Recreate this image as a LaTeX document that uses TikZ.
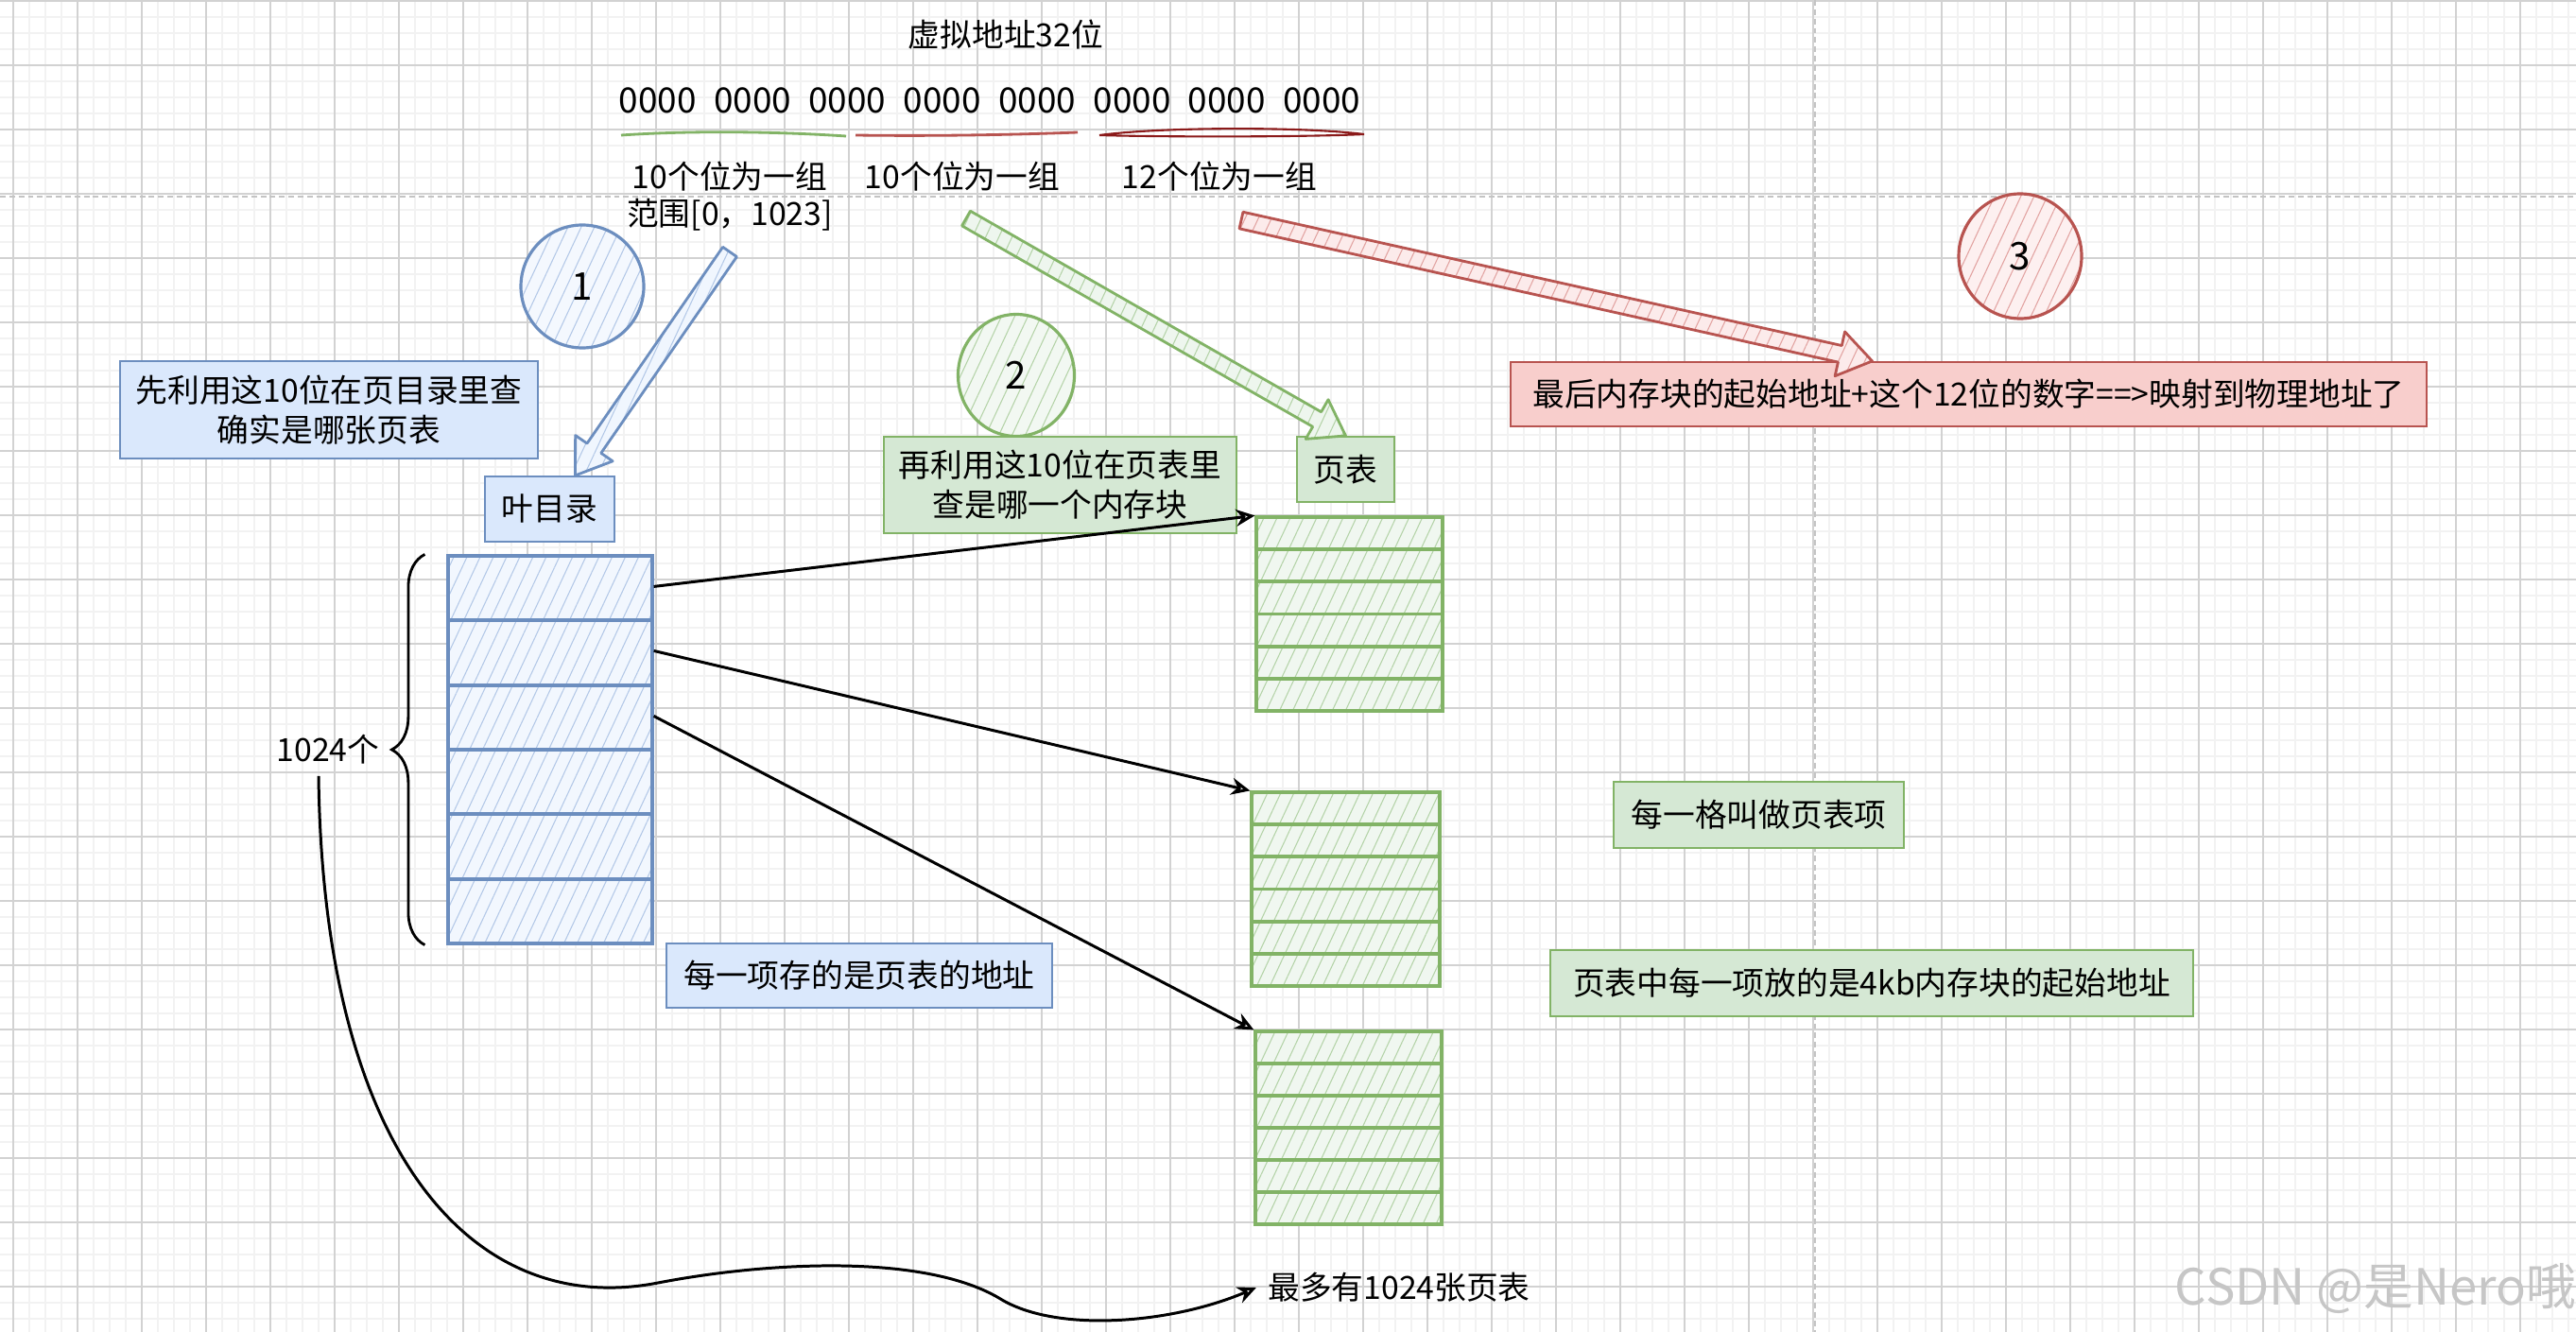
\documentclass[tikz,border=0pt]{standalone}
\usepackage{fontspec}
\setmainfont{Noto Sans CJK SC}
\usetikzlibrary{arrows.meta,calc,shapes.geometric,patterns.meta,decorations.pathreplacing}

\definecolor{blueFill}{HTML}{DAE8FC}
\definecolor{blueLine}{HTML}{6C8EBF}
\definecolor{greenFill}{HTML}{D5E8D4}
\definecolor{greenLine}{HTML}{82B366}
\definecolor{redFill}{HTML}{F8CECC}
\definecolor{redLine}{HTML}{B85450}
\definecolor{darkRed}{HTML}{8B1A1A}
\definecolor{gridMajor}{HTML}{D2D2D2}
\definecolor{gridMinor}{HTML}{F2F2F2}
\definecolor{gridDash}{HTML}{C4C4C4}
\colorlet{blueHatch}{blueLine!35!blueFill}
\colorlet{greenHatch}{greenLine!40!greenFill}
\colorlet{redHatch}{redLine!35!redFill}

\tikzset{
	note/.style={draw, line width=0.6pt, align=center, inner sep=0pt},
	bluenote/.style={note, draw=blueLine, fill=blueFill},
	greennote/.style={note, draw=greenLine, fill=greenFill},
	rednote/.style={note, draw=redLine, fill=redFill},
	hatch/.style={pattern={Lines[angle=65,distance=3.6pt,line width=0.3pt]}, pattern color=#1},
	stack/.style={draw, line width=0.9pt, inner sep=0pt},
	badge/.style={ellipse, draw, line width=0.9pt, inner sep=0pt, font=\fontsize{11.5}{14}\selectfont},
	bigarrow/.style={line width=0.8pt, line join=round},
	link/.style={line width=0.85pt, -{Stealth[open,length=2mm,width=1.8mm]}}
}

\newcommand{\fatarrow}[3]{%
	\coordinate (hb) at ($(#3)!0.35cm!(#2)$);
	\draw[bigarrow, #1] ($(#2)!0.09cm!90:(#3)$) -- ($(hb)!0.09cm!90:(#3)$) -- ($(hb)!0.24cm!90:(#3)$) -- (#3) -- ($(hb)!0.24cm!-90:(#3)$) -- ($(hb)!0.09cm!-90:(#3)$) -- ($(#2)!0.09cm!-90:(#3)$) -- cycle;
}

\begin{document}
\begin{tikzpicture}[font=\fontsize{9.6}{12}\selectfont]
	\fill[white] (0,0) rectangle (27.25,-14.09);
	\useasboundingbox (0,0) rectangle (27.25,-14.09);
	\begin{scope}[shift={(0.14,-0.01)}]
		\draw[gridMinor, line width=0.5pt, step=0.17] (-0.14,-14.08) grid (27.11,0.01);
		\draw[gridMajor, line width=0.35pt, step=0.68] (-0.14,-14.08) grid (27.11,0.01);
	\end{scope}
	\draw[gridDash, line width=0.5pt, dash pattern=on 1.7pt off 1.1pt] (0,-2.08) -- (27.25,-2.08);
	\draw[gridDash, line width=0.5pt, dash pattern=on 1.7pt off 1.1pt] (19.20,0) -- (19.20,-14.09);

	\node (title) at (10.64,-0.37) {虚拟地址32位};
	\node[font=\fontsize{10.5}{12}\selectfont] (bits) at (10.47,-1.06) {0000\hspace{0.5em}0000\hspace{0.5em}0000\hspace{0.5em}0000\hspace{0.5em}0000\hspace{0.5em}0000\hspace{0.5em}0000\hspace{0.5em}0000};
	\draw[greenLine, line width=0.8pt] (6.57,-1.43) .. controls (7.3,-1.38) and (8.2,-1.39) .. (8.95,-1.44);
	\draw[redLine, line width=0.8pt] (9.05,-1.43) .. controls (9.8,-1.44) and (10.6,-1.43) .. (11.40,-1.40);
	\draw[darkRed, line width=0.6pt] (11.63,-1.43) .. controls (12.3,-1.34) and (13.8,-1.34) .. (14.43,-1.42) .. controls (13.8,-1.45) and (12.3,-1.45) .. (11.63,-1.43);
	\node (lbl1) at (7.72,-1.87) {10个位为一组};
	\node (range) at (7.72,-2.27) {范围[0，1023]};
	\node (lbl2) at (10.18,-1.87) {10个位为一组};
	\node (lbl3) at (12.90,-1.87) {12个位为一组};

	\node[badge, draw=blueLine, preaction={fill=blueFill!30!white}, hatch=blueHatch, minimum width=1.30cm, minimum height=1.30cm] (c1) at (6.16,-3.03) {1};
	\node[badge, draw=greenLine, preaction={fill=greenFill!30!white}, hatch=greenHatch, minimum width=1.23cm, minimum height=1.29cm] (c2) at (10.75,-3.97) {2};
	\node[badge, draw=redLine, preaction={fill=redFill!30!white}, hatch=redHatch, minimum width=1.30cm, minimum height=1.32cm] (c3) at (21.37,-2.71) {3};

	\node[bluenote, minimum width=4.42cm, minimum height=1.03cm] (n1) at (3.48,-4.335) {先利用这10位在页目录里查\\确实是哪张页表};
	\node[bluenote, minimum width=1.37cm, minimum height=0.69cm] (dir) at (5.815,-5.385) {叶目录};
	\node[greennote, minimum width=3.73cm, minimum height=1.02cm] (n2) at (11.215,-5.13) {再利用这10位在页表里\\查是哪一个内存块};
	\node[greennote, minimum width=1.03cm, minimum height=0.69cm] (pt) at (14.235,-4.965) {页表};
	\node[rednote, minimum width=9.69cm, minimum height=0.68cm] (phys) at (20.825,-4.17) {最后内存块的起始地址+这个12位的数字==>映射到物理地址了};

	\coordinate (a1) at ([yshift=-0.1cm]range.south);
	\coordinate (b1) at ([xshift=0.27cm]dir.north);
	\fatarrow{draw=blueLine, preaction={fill=blueFill!40!white}, hatch=blueHatch}{a1}{b1}
	\coordinate (a2) at ([xshift=0.04cm,yshift=-0.16cm]lbl2.south);
	\fatarrow{draw=greenLine, preaction={fill=greenFill!40!white}, hatch=greenHatch}{a2}{pt.north}
	\coordinate (a3) at ([xshift=0.23cm,yshift=-0.18cm]lbl3.south);
	\coordinate (b3) at ([xshift=-1.02cm]phys.north);
	\fatarrow{draw=redLine, preaction={fill=redFill!40!white}, hatch=redHatch}{a3}{b3}

	\node[stack, draw=blueLine, preaction={fill=blueFill!35!white}, hatch=blueHatch, minimum width=2.16cm, minimum height=4.10cm] (pd) at (5.82,-7.93) {};
	\draw[blueLine, line width=1.1pt] (4.74,-6.563) -- (6.90,-6.563) (4.74,-7.247) -- (6.90,-7.247) (4.74,-7.93) -- (6.90,-7.93) (4.74,-8.613) -- (6.90,-8.613) (4.74,-9.297) -- (6.90,-9.297);
	\node[stack, draw=greenLine, preaction={fill=greenFill!35!white}, hatch=greenHatch, minimum width=1.97cm, minimum height=2.05cm] (pt1) at (14.275,-6.495) {};
	\draw[greenLine, line width=1.1pt] (13.29,-5.812) -- (15.26,-5.812) (13.29,-6.153) -- (15.26,-6.153) (13.29,-6.495) -- (15.26,-6.495) (13.29,-6.837) -- (15.26,-6.837) (13.29,-7.178) -- (15.26,-7.178);
	\node[stack, draw=greenLine, preaction={fill=greenFill!35!white}, hatch=greenHatch, minimum width=1.99cm, minimum height=2.05cm] (pt2) at (14.235,-9.405) {};
	\draw[greenLine, line width=1.1pt] (13.24,-8.722) -- (15.23,-8.722) (13.24,-9.063) -- (15.23,-9.063) (13.24,-9.405) -- (15.23,-9.405) (13.24,-9.747) -- (15.23,-9.747) (13.24,-10.088) -- (15.23,-10.088);
	\node[stack, draw=greenLine, preaction={fill=greenFill!35!white}, hatch=greenHatch, minimum width=1.97cm, minimum height=2.04cm] (pt3) at (14.265,-11.93) {};
	\draw[greenLine, line width=1.1pt] (13.28,-11.25) -- (15.25,-11.25) (13.28,-11.59) -- (15.25,-11.59) (13.28,-11.93) -- (15.25,-11.93) (13.28,-12.27) -- (15.25,-12.27) (13.28,-12.61) -- (15.25,-12.61);

	\draw[link] ([yshift=-0.34cm]pd.north east) -- (pt1.north west);
	\draw[link] ([yshift=-1.02cm]pd.north east) -- (pt2.north west);
	\draw[link] ([yshift=-1.71cm]pd.north east) -- (pt3.north west);

	\node (cnt) at (3.47,-7.93) {1024个};
	\draw[line width=0.8pt, decorate, decoration={brace, amplitude=0.35cm}] ([xshift=-0.23cm]pd.south west) -- ([xshift=-0.23cm]pd.north west);

	\node[bluenote, minimum width=4.08cm, minimum height=0.68cm] (n3) at (9.09,-10.32) {每一项存的是页表的地址};
	\node[greennote, minimum width=3.07cm, minimum height=0.70cm] (n4) at (18.605,-8.62) {每一格叫做页表项};
	\node[greennote, minimum width=6.80cm, minimum height=0.70cm] (n5) at (19.80,-10.40) {页表中每一项放的是4kb内存块的起始地址};

	\node (maxnote) at (14.80,-13.62) {最多有1024张页表};
	\draw[link] ([xshift=-0.1cm]cnt.south) .. controls (3.42,-12.2) and (5.0,-13.95) .. (6.96,-13.57) .. controls (8.1,-13.35) and (9.8,-13.25) .. (10.6,-13.75) .. controls (11.2,-14.1) and (12.4,-14.0) .. (maxnote.west);

	\node[text=gray!45, font=\fontsize{15}{18}\selectfont] (mark) at (25.13,-13.63) {CSDN @是Nero哦};
\end{tikzpicture}
\end{document}
